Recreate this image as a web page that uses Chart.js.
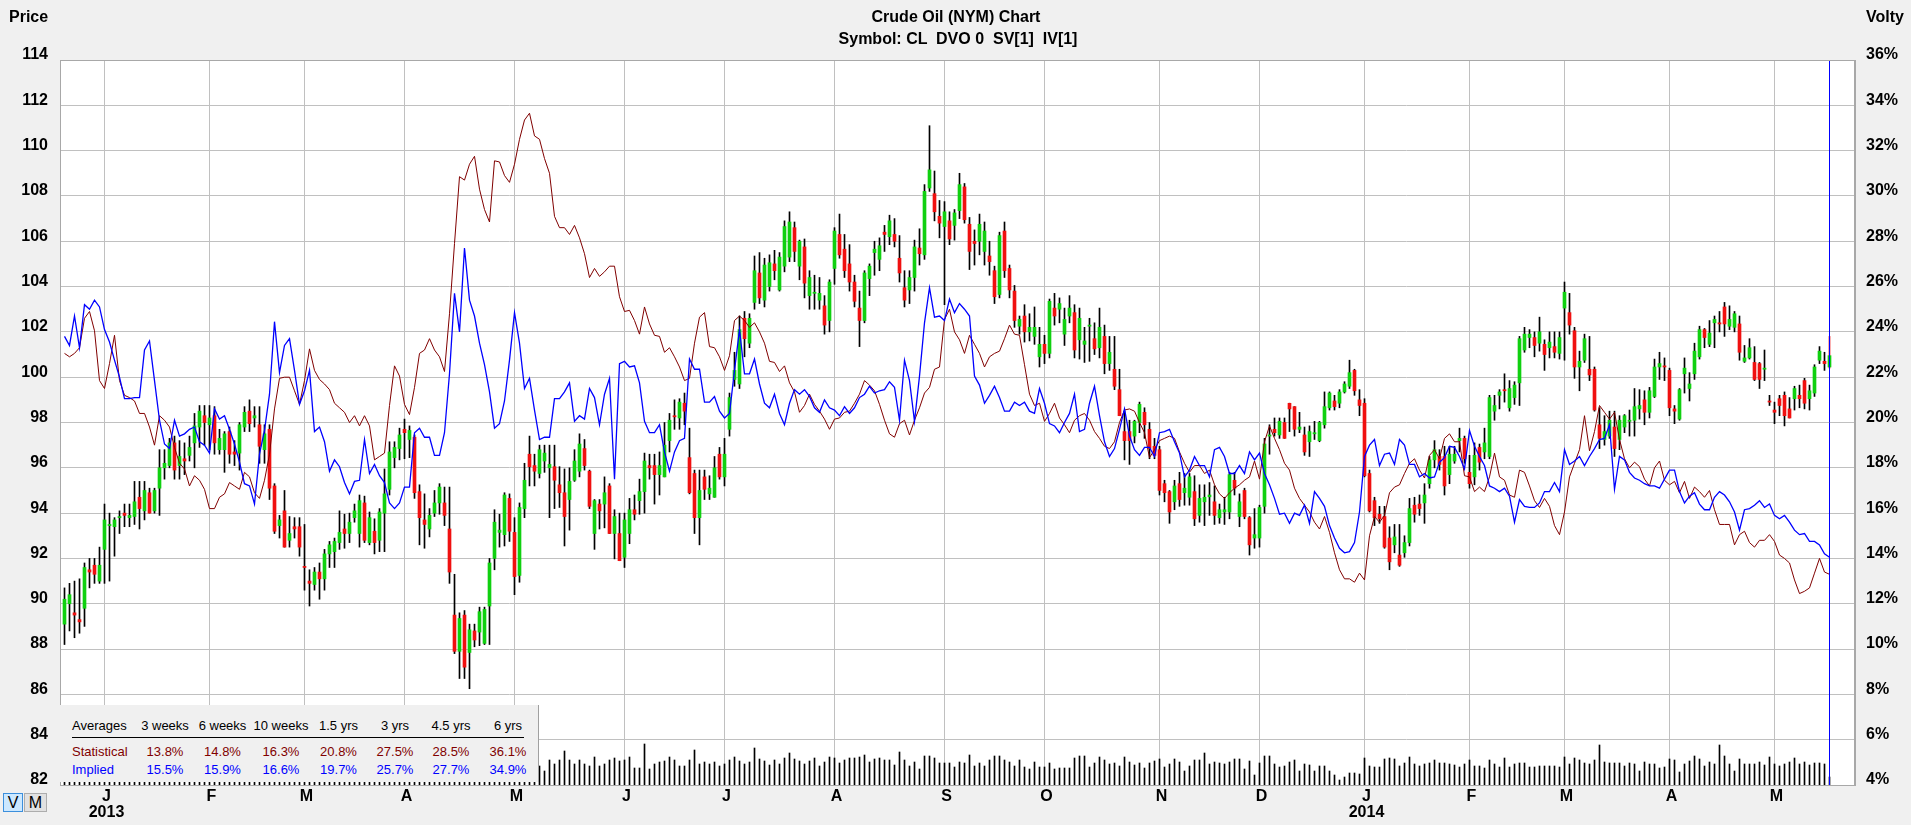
<!DOCTYPE html>
<html>
<head>
<meta charset="utf-8">
<title>Crude Oil (NYM) Chart</title>
<script src="https://cdn.jsdelivr.net/npm/chart.js@4.4.1/dist/chart.umd.min.js"></script>
<style>
  html, body { margin: 0; padding: 0; background: #f0f0f0; }
  #wrap { position: relative; width: 1911px; height: 825px; overflow: hidden;
          font-family: "Liberation Sans", Arial, Helvetica, sans-serif; color: #000; }
  #c { position: absolute; left: 0; top: 0; width: 1911px; height: 825px; }
  .abs { position: absolute; white-space: pre; line-height: 16px; }
  .hdr { font-weight: bold; font-size: 16px; }
  .ctr { transform: translateX(-50%); }
  #avg { position: absolute; left: 60px; top: 705px; width: 478px; height: 77px;
         background: #f0f0f0; border-right: 1px solid #a0a0a0; font-size: 13px; }
  .btn { position: absolute; top: 793px; height: 17px; font-size: 16px; line-height: 17px; text-align: center; }
</style>
</head>
<body>
<div id="wrap">
  <canvas id="c" width="1911" height="825"></canvas>
  <div class="abs hdr" style="left:9px; top:9px;">Price</div>
  <div class="abs hdr" style="left:1866px; top:9px;">Volty</div>
  <div class="abs hdr ctr" style="left:956px; top:9px;">Crude Oil (NYM) Chart</div>
  <div class="abs hdr ctr" style="left:958px; top:31px;">Symbol: CL  DVO 0  SV[1]  IV[1]</div>
  <div id="avg"></div>
  <div class="btn" style="left:3px; width:18px; background:#cce8ff; border:1px solid #3c8fdc;">V</div>
  <div class="btn" style="left:24px; width:21px; background:#e1e1e1; border:1px solid #adadad;">M</div>
</div>
<script>
// daily candles, first bar = 19 Dec 2012, last bar = 16 May 2014
const OPEN = [
  89.1, 90.0, 89.6, 89.3, 89.8, 91.5, 91.7, 91.0, 92.4, 93.45,
  93.4, 93.8, 94.0, 93.8, 93.85, 94.7, 94.1, 94.9, 94.1, 95.1,
  96.0, 96.1, 97.1, 96.1, 96.4, 96.55, 97.1, 97.8, 98.3, 97.9,
  98.3, 96.8, 96.8, 97.6, 96.7, 96.65, 97.8, 98.5, 98.2, 97.9,
  96.8, 97.7, 95.2, 93.45, 94.1, 92.8, 93.4, 93.4, 91.65, 91.0,
  90.85, 91.4, 91.1, 92.2, 92.3, 92.7, 93.3, 93.1, 93.8, 93.1,
  94.45, 92.7, 93.2, 92.8, 94.0, 95.05, 96.45, 96.85, 97.7, 97.25,
  97.35, 94.95, 93.7, 93.3, 94.0, 94.45, 94.45, 93.3, 89.5, 87.9,
  89.5, 87.85, 88.8, 88.75, 88.25, 89.9, 92.0, 93.15, 93.05, 94.65,
  93.15, 91.25, 94.2, 96.6, 96.1, 95.75, 96.3, 96.0, 96.05, 95.25,
  94.9, 94.6, 95.45, 95.85, 96.85, 95.85, 93.1, 94.4, 94.4, 95.2,
  93.1, 93.1, 92.05, 93.1, 94.15, 94.55, 94.95, 96.1, 96.1, 95.7,
  95.6, 97.2, 98.3, 98.2, 98.85, 96.45, 95.75, 93.8, 95.6, 94.85,
  94.7, 96.6, 95.6, 97.7, 99.9, 99.7, 102.6, 101.5, 103.3, 104.6,
  103.4, 104.0, 105.0, 103.85, 104.9, 105.3, 106.6, 104.9, 105.75, 103.6,
  103.7, 103.4, 103.15, 102.5, 104.8, 106.3, 105.65, 105.0, 104.2, 103.05,
  102.5, 104.35, 105.5, 105.2, 106.4, 106.2, 106.3, 105.25, 103.95, 103.85,
  104.4, 105.7, 105.4, 108.35, 108.1, 107.1, 106.65, 106.9, 106.7, 107.35,
  108.4, 106.75, 106.0, 106.0, 105.55, 105.35, 104.7, 103.65, 106.45, 104.8,
  103.8, 102.25, 102.7, 102.0, 101.8, 100.9, 101.45, 101.05, 103.05, 103.0,
  101.9, 102.7, 102.85, 101.65, 101.45, 102.25, 101.7, 101.3, 101.8, 100.6,
  100.35, 99.45, 97.6, 97.6, 97.4, 98.0, 98.45, 97.7, 96.95, 96.8,
  95.3, 94.95, 94.5, 95.3, 94.9, 94.7, 94.95, 93.9, 94.5, 94.72,
  94.5, 93.8, 94.05, 94.05, 95.45, 93.85, 95.0, 93.8, 92.9, 92.9,
  94.3, 97.4, 97.7, 97.45, 98.0, 98.85, 98.7, 97.7, 97.45, 97.15,
  97.5, 97.2, 97.9, 98.65, 98.95, 98.85, 99.35, 99.6, 100.3, 99.0,
  98.85, 95.75, 94.55, 93.95, 93.85, 92.9, 92.6, 92.15, 92.25, 92.7,
  94.35, 94.4, 94.45, 95.3, 96.35, 96.5, 96.5, 95.7, 96.3, 97.2,
  97.3, 95.8, 95.6, 96.9, 96.7, 96.5, 98.5, 99.2, 99.45, 98.65,
  99.1, 99.75, 101.2, 101.75, 101.75, 101.5, 101.45, 101.3, 101.35, 101.05,
  103.05, 102.85, 102.05, 100.45, 100.75, 100.35, 100.35, 97.9, 97.25, 97.4,
  97.8, 97.25, 97.8, 98.05, 98.1, 98.6, 99.0, 98.45, 99.15, 100.45,
  100.5, 100.3, 98.6, 98.15, 100.15, 99.5, 100.15, 100.9, 102.1, 101.45,
  102.4, 102.4, 103.1, 102.25, 102.2, 102.35, 100.7, 100.85, 100.65, 100.6,
  100.35, 98.95, 98.55, 99.05, 99.2, 98.6, 99.05, 99.2, 99.85, 99.05,
  99.3, 100.75, 100.7, 100.45
];
const HIGH = [
  90.7, 90.9, 91.0, 91.1, 91.8, 92.0, 92.0, 92.5, 94.4, 94.0,
  93.8, 94.1, 94.4, 94.4, 95.4, 95.4, 95.4, 95.1, 95.1, 96.8,
  96.8, 97.3, 97.4, 97.2, 97.1, 97.4, 98.4, 98.75, 98.75, 98.75,
  98.7, 97.7, 97.6, 97.8, 97.2, 98.0, 98.7, 99.0, 98.7, 98.7,
  97.9, 97.9, 95.3, 93.9, 95.0, 93.85, 93.8, 93.8, 93.5, 91.5,
  91.6, 91.8, 92.4, 92.75, 92.9, 94.1, 93.95, 94.0, 94.4, 94.8,
  94.75, 94.05, 93.75, 94.2, 95.95, 97.15, 97.15, 97.75, 98.15, 97.85,
  97.45, 95.25, 94.85, 94.2, 95.0, 95.3, 95.15, 95.15, 91.3, 89.6,
  89.7, 89.1, 89.1, 89.85, 89.85, 92.0, 94.15, 93.95, 94.9, 94.85,
  93.8, 94.45, 96.2, 97.4, 96.6, 97.0, 97.0, 97.0, 97.0, 96.05,
  95.95, 96.0, 96.8, 97.5, 97.25, 95.9, 94.6, 94.6, 95.6, 95.3,
  94.15, 94.0, 94.0, 94.65, 94.8, 95.5, 96.65, 96.6, 96.6, 96.7,
  98.0, 98.4, 99.0, 99.05, 99.3, 97.75, 95.9, 95.9, 95.9, 95.65,
  96.5, 96.9, 97.3, 99.3, 101.1, 102.7, 102.9, 102.8, 105.35, 105.5,
  105.25, 105.4, 105.6, 105.5, 106.9, 107.3, 106.85, 106.05, 106.1, 104.7,
  104.5, 104.4, 103.6, 104.3, 106.6, 107.2, 106.3, 105.85, 104.5, 103.8,
  104.7, 105.0, 106.0, 106.15, 106.7, 107.15, 107.0, 106.25, 104.7, 104.7,
  106.05, 106.55, 108.5, 111.1, 109.1, 107.8, 107.75, 107.3, 107.4, 109.0,
  108.55, 107.05, 106.5, 107.2, 106.85, 106.0, 104.9, 106.4, 106.85, 104.95,
  104.05, 102.7, 103.2, 102.8, 103.1, 102.2, 101.85, 103.45, 103.7, 103.5,
  103.05, 103.6, 103.2, 103.05, 102.2, 102.6, 102.4, 103.05, 102.3, 101.8,
  101.8, 100.35, 98.5, 98.1, 98.1, 98.9, 98.65, 98.0, 97.3, 96.95,
  95.45, 95.0, 95.45, 95.8, 95.75, 95.75, 95.65, 95.25, 95.25, 95.35,
  95.2, 94.4, 94.7, 95.8, 95.8, 94.85, 95.1, 93.85, 94.2, 94.35,
  97.3, 97.9, 98.2, 98.2, 98.2, 98.85, 98.7, 98.45, 97.8, 97.85,
  98.05, 98.05, 99.35, 99.35, 99.2, 99.45, 99.8, 100.75, 100.35, 99.45,
  99.05, 95.9, 94.7, 94.3, 94.3, 93.4, 93.5, 93.5, 93.0, 94.65,
  94.7, 94.8, 95.3, 96.5, 97.2, 96.8, 96.95, 96.95, 96.95, 97.75,
  97.4, 96.55, 97.1, 97.05, 97.75, 99.2, 99.2, 99.45, 100.15, 99.85,
  99.8, 101.8, 102.2, 102.1, 102.0, 102.65, 101.65, 102.0, 102.0, 102.0,
  104.2, 103.7, 102.2, 101.15, 101.9, 101.8, 100.45, 98.65, 98.3, 98.5,
  98.5, 98.3, 98.35, 98.55, 99.5, 99.45, 99.4, 99.55, 100.8, 101.1,
  100.85, 100.4, 98.75, 99.5, 100.85, 100.2, 101.5, 102.25, 102.15, 102.5,
  102.7, 102.9, 103.3, 103.15, 102.9, 102.7, 101.4, 101.7, 101.35, 100.65,
  101.2, 99.2, 98.9, 99.2, 99.35, 99.1, 99.6, 99.65, 99.95, 99.65,
  100.55, 101.35, 101.1, 101.8
];
const LOW = [
  88.2, 88.8, 88.5, 88.7, 89.0, 90.7, 90.9, 90.9, 90.9, 91.0,
  92.1, 93.1, 93.4, 93.4, 93.5, 93.3, 93.7, 94.0, 94.0, 93.9,
  95.5, 96.0, 95.5, 95.5, 95.7, 96.3, 96.0, 96.9, 97.0, 96.8,
  96.6, 96.6, 95.8, 96.2, 96.1, 95.9, 97.6, 97.6, 97.8, 96.2,
  96.2, 94.6, 93.1, 92.9, 92.5, 92.5, 92.9, 92.1, 90.6, 89.9,
  90.6, 90.2, 90.6, 91.6, 91.6, 92.4, 92.45, 92.7, 93.6, 92.5,
  92.7, 92.6, 92.2, 92.3, 92.3, 94.8, 96.0, 96.35, 96.4, 96.45,
  94.65, 92.6, 92.45, 92.95, 93.85, 93.95, 93.45, 90.9, 87.8, 86.7,
  86.7, 86.25, 88.1, 88.15, 88.2, 88.2, 91.5, 92.5, 92.55, 92.75,
  90.4, 90.95, 93.8, 95.2, 95.2, 95.55, 95.8, 93.8, 94.2, 94.25,
  92.55, 93.25, 95.4, 95.6, 95.9, 94.2, 92.4, 93.3, 93.35, 93.1,
  91.98, 91.9, 91.6, 92.65, 93.7, 93.95, 94.0, 95.5, 94.4, 94.8,
  95.6, 96.7, 97.7, 97.7, 97.9, 94.85, 93.1, 92.6, 94.6, 94.6,
  94.7, 95.5, 95.2, 97.4, 99.6, 99.5, 100.9, 101.3, 103.0, 103.25,
  103.1, 103.8, 104.3, 103.8, 104.65, 105.1, 105.1, 104.3, 103.5, 103.0,
  103.0, 103.0, 101.9, 102.0, 104.1, 105.25, 104.4, 103.8, 103.1, 101.35,
  102.4, 103.6, 104.5, 104.7, 105.55, 105.85, 105.75, 104.2, 103.1, 103.25,
  103.8, 104.95, 105.2, 108.2, 106.9, 106.15, 103.2, 105.85, 106.05, 107.0,
  106.8, 104.75, 104.95, 105.4, 104.95, 104.5, 103.25, 103.5, 104.4, 103.5,
  102.2, 101.9, 101.55, 101.6, 101.45, 100.45, 100.6, 100.85, 102.3, 102.4,
  101.4, 102.4, 100.85, 100.8, 100.65, 100.7, 101.0, 100.85, 100.15, 100.3,
  99.45, 98.3, 96.35, 96.15, 97.1, 97.55, 97.3, 96.4, 96.4, 94.8,
  94.5, 93.55, 94.15, 94.3, 94.35, 94.35, 93.45, 93.6, 93.45, 93.9,
  93.5, 93.55, 93.5, 93.75, 94.8, 93.4, 93.75, 92.15, 92.45, 92.5,
  94.0, 96.6, 97.4, 97.3, 97.3, 97.6, 97.4, 97.55, 96.55, 96.5,
  97.25, 97.15, 97.75, 98.55, 98.55, 98.65, 99.3, 99.5, 99.2, 98.3,
  95.6, 94.05, 93.45, 93.55, 92.45, 91.5, 92.25, 91.65, 92.05, 92.55,
  93.6, 93.9, 93.55, 95.1, 96.0, 95.9, 94.8, 95.3, 96.2, 96.7,
  96.2, 95.1, 95.25, 95.9, 96.4, 96.4, 98.1, 98.6, 98.9, 98.5,
  98.8, 98.75, 101.1, 101.3, 100.9, 101.15, 100.3, 100.85, 100.85, 100.8,
  100.75, 101.9, 99.95, 99.4, 100.65, 99.85, 98.5, 96.85, 97.0, 97.3,
  96.5, 96.8, 97.55, 97.4, 97.4, 98.15, 97.9, 98.2, 99.1, 99.9,
  99.85, 98.3, 97.95, 98.1, 99.3, 98.95, 99.9, 100.8, 101.3, 101.35,
  101.3, 102.0, 101.8, 102.1, 102.0, 100.75, 100.65, 100.8, 99.85, 99.5,
  99.85, 98.75, 97.95, 98.3, 97.85, 98.2, 98.55, 98.65, 98.6, 98.55,
  99.15, 100.6, 100.3, 100.4
];
const CLOSE = [
  90.2, 90.4, 89.5, 89.2, 91.6, 91.4, 91.3, 91.7, 93.7, 93.5,
  93.7, 93.85, 93.9, 93.9, 94.5, 94.2, 95.0, 94.0, 95.0, 96.0,
  96.2, 97.1, 95.9, 96.5, 96.3, 96.9, 97.85, 98.5, 98.0, 98.2,
  97.1, 97.3, 97.5, 96.6, 96.6, 97.9, 98.45, 97.95, 98.3, 96.95,
  97.5, 95.1, 93.2, 93.7, 92.5, 93.1, 93.3, 92.5, 91.6, 90.9,
  91.4, 91.1, 92.2, 92.6, 92.75, 93.15, 93.1, 93.6, 94.1, 94.55,
  92.8, 93.8, 92.7, 94.05, 94.85, 96.7, 96.9, 97.45, 97.55, 97.65,
  94.9, 93.8, 93.5, 93.9, 94.45, 95.15, 93.9, 91.4, 87.9, 89.35,
  87.2, 88.85, 88.4, 89.65, 89.75, 91.8, 93.6, 93.25, 94.8, 93.2,
  91.2, 94.25, 95.45, 96.05, 95.85, 96.8, 96.65, 96.15, 95.45, 94.9,
  93.85, 95.4, 96.3, 97.05, 96.1, 94.3, 94.55, 94.1, 94.9, 93.1,
  93.85, 91.9, 93.7, 94.15, 93.95, 94.95, 96.3, 96.0, 95.7, 96.1,
  97.0, 98.1, 98.25, 98.9, 98.5, 94.9, 93.8, 95.0, 95.05, 95.1,
  96.0, 95.6, 96.6, 99.1, 100.3, 102.1, 101.7, 102.6, 104.7, 103.5,
  104.95, 105.05, 104.7, 105.3, 106.65, 106.85, 105.55, 106.0, 104.15, 104.4,
  103.75, 103.7, 102.3, 104.2, 106.45, 105.4, 104.7, 104.2, 103.35, 102.5,
  104.6, 104.9, 105.65, 105.8, 106.3, 106.9, 106.0, 104.6, 103.4, 104.4,
  105.75, 105.45, 108.2, 109.15, 107.3, 106.8, 107.3, 106.1, 107.25, 108.5,
  106.95, 105.55, 105.9, 106.75, 106.45, 105.1, 103.55, 106.25, 104.7, 103.85,
  102.5, 102.55, 102.0, 102.2, 102.2, 101.45, 101.05, 103.35, 102.7, 103.25,
  102.55, 103.05, 101.2, 102.6, 101.6, 102.3, 101.25, 102.2, 100.6, 101.1,
  99.6, 98.3, 97.2, 97.2, 98.05, 98.8, 97.9, 96.85, 96.55, 95.0,
  94.9, 94.05, 95.2, 94.6, 95.1, 95.6, 93.75, 94.65, 94.7, 94.8,
  93.9, 94.15, 94.15, 95.7, 95.1, 94.5, 93.85, 92.6, 93.05, 94.25,
  97.05, 97.45, 97.55, 98.05, 97.3, 98.6, 97.7, 97.8, 96.7, 97.6,
  97.55, 98.0, 98.7, 99.3, 98.7, 99.35, 99.7, 100.2, 99.4, 98.75,
  95.65, 94.1, 93.8, 93.75, 92.5, 91.85, 92.95, 91.7, 92.7, 94.2,
  93.95, 94.2, 94.8, 96.35, 96.8, 96.15, 95.2, 96.6, 96.6, 97.3,
  96.4, 95.3, 96.55, 96.25, 97.1, 99.1, 98.75, 99.35, 99.4, 99.5,
  99.65, 101.7, 101.9, 101.9, 101.4, 102.0, 101.0, 101.55, 101.1, 101.75,
  103.75, 102.3, 100.45, 100.7, 101.7, 100.1, 98.55, 97.3, 97.6, 98.1,
  96.85, 98.1, 98.3, 98.1, 98.7, 98.75, 98.45, 99.4, 100.45, 100.6,
  100.45, 98.65, 98.5, 99.45, 100.4, 99.7, 101.15, 102.1, 101.75, 101.95,
  102.55, 102.35, 102.35, 102.55, 102.8, 101.1, 100.85, 101.3, 99.9, 99.9,
  100.4, 98.9, 98.45, 98.75, 98.3, 98.2, 99.5, 99.05, 98.85, 99.4,
  100.45, 101.15, 100.6, 100.95
];
// volatility in percent (right axis)
const IMPLIED = [
  23.8, 23.4, 24.7, 23.3, 25.2, 25.0, 25.4, 25.1, 24.1, 23.55,
  22.75, 22.0, 21.05, 21.05, 21.1, 21.1, 23.2, 23.6, 21.85, 20.1,
  19.05, 18.85, 20.1, 19.4, 19.5, 19.7, 19.8, 19.15, 19.0, 18.65,
  20.6, 20.15, 20.3, 19.7, 19.05, 18.25, 17.3, 17.2, 16.4, 18.6,
  19.65, 21.25, 24.45, 22.2, 23.4, 23.7, 22.3, 20.8, 21.4, 22.3,
  19.6, 19.8, 19.15, 17.85, 18.35, 18.05, 17.35, 16.85, 17.4, 17.45,
  19.25, 17.75, 18.15, 17.65, 17.35, 16.45, 16.2, 16.45, 17.15, 17.15,
  19.55, 19.75, 19.35, 19.35, 18.55, 18.55, 19.55, 22.15, 25.7, 24.0,
  27.7, 25.4, 24.7, 23.5, 22.55, 21.35, 19.75, 19.95, 20.95, 22.75,
  24.85, 23.5, 21.5, 21.95, 20.55, 19.25, 19.35, 19.35, 21.05, 21.05,
  21.35, 21.75, 20.05, 20.3, 20.15, 21.5, 21.1, 19.9, 21.25, 21.95,
  17.5, 22.6, 22.7, 22.45, 22.5, 21.75, 20.05, 19.55, 19.55, 19.9,
  18.7, 17.85, 18.7, 19.2, 19.3, 22.8, 22.35, 22.35, 20.9, 20.9,
  21.15, 20.5, 20.2, 20.4, 22.3, 24.1, 22.15, 22.15, 22.8, 21.7,
  20.85, 20.65, 21.25, 20.4, 19.9, 20.85, 21.45, 21.25, 21.45, 21.15,
  20.65, 20.45, 21.0, 20.65, 20.55, 20.3, 20.7, 20.4, 20.65, 21.1,
  21.25, 21.6, 21.3, 21.4, 21.45, 21.8, 21.55, 20.1, 22.75, 21.85,
  20.05, 22.05, 24.4, 25.95, 24.65, 24.7, 24.5, 25.45, 24.85, 25.25,
  25.0, 24.7, 22.05, 21.65, 20.85, 21.2, 21.6, 21.1, 20.5, 20.5,
  20.9, 20.75, 20.9, 20.5, 20.4, 21.5, 20.85, 19.95, 19.85, 19.55,
  20.0, 20.4, 21.25, 19.6, 19.7, 20.85, 21.6, 20.3, 19.15, 18.5,
  18.85, 19.7, 20.6, 19.4, 18.8, 18.55, 18.9, 18.9, 18.5, 19.55,
  19.6, 19.7, 19.15, 18.65, 17.6, 17.9, 18.5, 18.1, 18.1, 17.6,
  18.8, 18.9, 18.5, 17.75, 17.75, 18.1, 17.75, 18.7, 18.35, 18.65,
  17.75, 17.25, 16.65, 15.95, 16.0, 15.55, 16.0, 15.9, 16.35, 15.55,
  16.95, 16.65, 16.3, 15.45, 14.9, 14.45, 14.25, 14.3, 14.7, 16.05,
  18.5, 19.0, 19.25, 18.1, 18.6, 18.65, 18.15, 19.25, 19.0, 18.15,
  18.15, 17.6, 17.75, 17.55, 17.6, 18.25, 18.45, 18.95, 18.9, 18.5,
  17.95, 19.65, 18.95, 18.5, 18.1, 17.2, 17.1, 16.95, 17.1, 16.75,
  15.6, 16.6, 16.3, 16.25, 16.25, 16.45, 16.95, 16.95, 17.35, 16.95,
  18.8, 18.15, 18.3, 18.5, 18.1, 18.5, 18.85, 19.25, 19.3, 19.9,
  17.05, 18.5, 18.35, 17.8, 17.55, 17.45, 17.3, 17.2, 17.2, 17.1,
  17.5, 17.9, 17.9, 16.95, 16.45, 16.75, 16.9, 16.4, 16.15, 16.15,
  16.7, 16.95, 16.8, 16.5, 16.05, 15.25, 16.15, 16.2, 16.35, 16.55,
  16.25, 16.4, 15.9, 15.75, 15.9, 15.6, 15.25, 15.05, 15.1, 14.75,
  14.75, 14.6, 14.2, 14.05
];
const STATISTICAL = [
  23.05, 22.9, 23.05, 23.3, 24.6, 24.9, 24.05, 21.85, 21.5, 22.6,
  23.85, 21.85, 21.2, 21.1, 20.95, 20.4, 20.4, 19.8, 19.0, 20.3,
  20.1, 19.8, 18.9, 18.2, 17.95, 17.2, 17.65, 17.45, 17.05, 16.2,
  16.2, 16.7, 16.85, 17.35, 17.2, 17.05, 17.8, 17.6, 16.9, 16.65,
  17.45, 18.6, 20.6, 21.95, 22.0, 22.0, 21.4, 20.8, 21.85, 23.25,
  22.3, 21.9, 21.7, 21.45, 20.85, 20.65, 20.45, 20.0, 20.3, 19.85,
  20.3, 19.85, 18.35, 18.5, 18.65, 20.75, 22.5, 22.05, 20.8, 20.35,
  21.55, 23.05, 23.2, 23.7, 23.2, 22.9, 22.25, 24.8, 27.9, 30.85,
  30.7, 31.4, 31.75, 30.3, 29.4, 28.85, 31.55, 31.5, 30.9, 30.6,
  31.4, 32.5, 33.35, 33.65, 32.65, 32.5, 31.65, 31.0, 29.1, 28.6,
  28.6, 28.3, 28.7, 28.15, 27.45, 26.4, 26.8, 26.45, 26.65, 26.9,
  26.9, 25.55, 24.9, 24.95, 24.5, 23.9, 25.1, 24.35, 23.85, 23.8,
  23.1, 23.3, 22.9, 22.45, 21.85, 21.95, 23.5, 24.65, 24.85, 23.35,
  23.3, 22.9, 22.3, 22.95, 24.5, 24.7, 24.5, 24.2, 24.4, 24.0,
  23.5, 22.7, 22.65, 22.25, 22.5, 21.75, 21.35, 20.45, 20.75, 21.25,
  20.8, 20.5, 20.15, 19.7, 20.15, 20.2, 20.45, 20.5, 20.85, 21.25,
  21.85, 21.65, 21.4, 20.8, 20.1, 19.5, 19.35, 19.95, 20.1, 19.45,
  20.1, 20.65, 21.3, 21.55, 22.35, 22.45, 24.55, 25.0, 24.0, 23.65,
  23.05, 23.85, 23.45, 23.05, 22.45, 22.9, 23.05, 23.15, 23.7, 24.3,
  23.9, 23.85, 22.55, 21.25, 20.75, 20.85, 20.05, 20.4, 20.85, 20.2,
  19.9, 19.55, 20.1, 20.3, 20.4, 20.1, 19.6, 19.3, 18.95, 18.85,
  19.15, 20.0, 20.55, 20.6, 20.5, 20.0, 19.55, 18.45, 18.8, 19.2,
  19.3, 19.4, 19.3, 18.7, 18.2, 17.8, 18.1, 18.1, 17.75, 17.9,
  17.25, 16.85, 16.65, 16.9, 17.1, 17.25, 17.45, 17.6, 18.3, 17.5,
  19.15, 19.85, 19.3, 18.8, 18.2, 17.9, 17.1, 16.65, 16.35, 16.05,
  15.6, 15.3, 15.85, 15.15, 14.25, 13.5, 13.1, 13.1, 12.95, 13.35,
  13.05, 15.0, 15.85, 15.6, 15.9, 16.9, 17.15, 17.25, 17.75, 18.2,
  18.4, 17.9, 17.55, 18.55, 18.8, 18.4, 19.3, 19.5, 19.15, 19.15,
  17.65, 17.6, 16.95, 17.15, 16.95, 17.6, 18.65, 17.6, 17.45, 16.8,
  16.7, 17.9, 17.8, 17.2, 16.55, 16.25, 16.65, 16.3, 15.45, 15.05,
  16.05, 17.6, 18.2, 18.8, 20.3, 18.75, 19.6, 20.75, 20.45, 20.15,
  20.45, 19.25, 18.4, 18.0, 18.25, 18.05, 17.5, 17.2, 18.0, 18.3,
  17.45, 17.25, 17.4, 16.9, 17.4, 16.65, 17.15, 16.95, 16.7, 17.0,
  16.15, 15.5, 15.5, 15.5, 14.6, 15.05, 15.2, 14.7, 14.5, 14.8,
  14.8, 15.05, 14.75, 14.15, 14.0, 13.8, 13.05, 12.45, 12.55, 12.7,
  13.35, 14.0, 13.4, 13.3
];
// daily volume, thousand contracts
const VOLUME = [
  140, 120, 180, 100, 170, 200, 150, 130,
  240, 210, 220, 190, 230, 200, 250, 220, 180, 210, 240, 260, 200, 230, 220, 190, 210, 270, 240, 200, 220,
  250, 230, 190, 210, 240, 220, 200, 260, 230, 210, 280, 240, 300, 330, 250, 270, 220, 240, 210,
  260, 290, 230, 220, 200, 240, 210, 190, 230, 250, 220, 270, 240, 210, 230, 200, 260, 280, 220, 190,
  240, 220, 260, 290, 250, 210, 230, 200, 220, 310, 380, 330, 300, 270, 240, 260, 230, 280, 300, 250, 220, 240, 270, 290, 250, 230, 210,
  190, 140, 250, 210, 250, 340, 250, 210, 250, 210,
  190, 280, 190, 210, 250, 270, 240, 250, 280, 170,
  170, 410, 160, 210, 230, 240, 280, 250, 190, 190,
  250, 350, 210, 230, 210, 230, 190, 210, 250, 280,
  240, 210, 230, 370, 260, 240, 200, 250, 210, 270,
  320, 260, 240, 210, 240, 270, 190, 230, 280, 270,
  220,
  250, 270, 270, 280, 300, 230, 260, 270, 250, 250,
  200, 330, 250, 190, 230, 160, 290, 290, 270, 220,
  220, 220, 180, 230, 220, 300, 190, 220, 190, 250,
  290, 290, 250, 230, 190, 250, 180, 160, 230, 180,
  180, 220, 160, 170, 170, 170, 270, 290, 290, 180,
  220, 280,
  250, 210, 220, 190, 280, 230, 200, 220, 170, 220,
  240, 260, 180, 210, 260, 230, 140, 190, 250, 250,
  320, 210, 230, 220, 210, 230, 260, 260, 160, 240,
  100, 220, 290, 290, 210, 180, 190, 230, 250, 140,
  210, 200, 140, 190, 190, 140, 100, 50, 80, 120,
  120, 110,
  270, 190, 180, 180, 260, 270, 260, 190, 220, 280,
  210, 190, 210, 220, 250, 220, 220, 210, 200, 180,
  210, 250, 190, 190, 170, 250, 210, 180, 270, 180,
  210, 220, 220, 180, 180, 190, 190, 190, 190, 180,
  280, 210, 270, 250, 220, 210, 250, 400, 230, 220,
  220, 220,
  190, 220, 210, 140, 230, 210, 210, 170, 180, 260,
  250, 130, 210, 240, 290, 260, 190, 230, 210, 400,
  290, 210, 140, 260, 210, 210, 210, 230, 200, 280,
  210, 190, 210, 230, 270, 210, 230, 200, 220, 220,
  210, 80
];
// first trading day of each month (bar index) and its axis label
const MONTH_STARTS = [8, 29, 48, 68, 90, 112, 132, 154, 176, 196, 219, 239, 260, 281, 300, 321, 342];
const MONTH_LABELS = ['J', 'F', 'M', 'A', 'M', 'J', 'J', 'A', 'S', 'O', 'N', 'D', 'J', 'F', 'M', 'A', 'M'];
const YEAR_LABELS  = ['2013', '', '', '', '', '', '', '', '', '', '', '', '2014', '', '', '', ''];
const PRICE_TICKS = { min: 82, max: 114, step: 2 };
const VOLTY_TICKS = { min: 4, max: 36, step: 2 };

const AVG_PERIODS = ['3 weeks', '6 weeks', '10 weeks', '1.5 yrs', '3 yrs', '4.5 yrs', '6 yrs'];
const AVG_STAT = [13.8, 14.8, 16.3, 20.8, 27.5, 28.5, 36.1];
const AVG_IMPL = [15.5, 15.9, 16.6, 19.7, 25.7, 27.7, 34.9];

const FONT = '"Liberation Sans", Arial, Helvetica, sans-serif';
const UP = '#10d010', DOWN = '#f01010';
const GRID = '#c0c0c0', FRAME = '#a8a8a8';
const LAST = CLOSE.length - 1;
const idx = CLOSE.map((_, i) => i);

// averages box (html overlay over the plot)
(function buildAverages(){
  const box = document.getElementById('avg');
  const colX = [105, 162.5, 221, 278.5, 335, 391, 448]; // centres, relative to box
  const add = (txt, x, y, color, centre) => {
    const d = document.createElement('div');
    d.className = 'abs' + (centre ? ' ctr' : '');
    d.style.left = x + 'px';
    d.style.top = y + 'px';
    d.style.color = color;
    d.textContent = txt;
    box.appendChild(d);
  };
  add('Averages', 12, 13, '#000', false);
  AVG_PERIODS.forEach((p, i) => add(p, colX[i], 13, '#000', true));
  const rule = document.createElement('div');
  rule.style.cssText = 'position:absolute;left:12px;top:32px;width:452px;height:1px;background:#000;';
  box.appendChild(rule);
  add('Statistical', 12, 39, '#800000', false);
  AVG_STAT.forEach((v, i) => add(v.toFixed(1) + '%', colX[i], 39, '#800000', true));
  add('Implied', 12, 57, '#0000ff', false);
  AVG_IMPL.forEach((v, i) => add(v.toFixed(1) + '%', colX[i], 57, '#0000ff', true));
})();

const framePlugin = {
  id: 'frame',
  beforeDraw(chart){
    const { ctx, chartArea: a } = chart;
    ctx.save();
    ctx.fillStyle = '#f0f0f0';
    ctx.fillRect(0, 0, chart.width, chart.height);
    ctx.fillStyle = '#ffffff';
    ctx.fillRect(a.left, a.top, a.right - a.left, a.bottom - a.top);
    ctx.restore();
  },
  afterDatasetsDraw(chart){
    const { ctx, chartArea: a, scales } = chart;
    const x = Math.round(scales.x.getPixelForValue(LAST)) + 0.5;
    ctx.save();
    ctx.strokeStyle = '#0000ff';
    ctx.lineWidth = 1;
    ctx.beginPath();
    ctx.moveTo(x, a.top);
    ctx.lineTo(x, a.bottom);
    ctx.stroke();
    ctx.strokeStyle = FRAME;
    ctx.strokeRect(Math.round(a.left) + 0.5, Math.round(a.top) + 0.5,
                   Math.round(a.right - a.left) - 1, Math.round(a.bottom - a.top));
    ctx.restore();
  }
};

const tickFont = { family: FONT, size: 16, weight: 'bold', lineHeight: 1 };

new Chart(document.getElementById('c'), {
  type: 'bar',
  data: {
    datasets: [
      {
        label: 'Volume',
        data: idx.map(i => ({ x: i, y: VOLUME[i] })),
        yAxisID: 'yVol',
        backgroundColor: '#000000',
        barThickness: 1,
        grouped: false,
        order: 4
      },
      {
        label: 'Range',
        data: idx.map(i => ({ x: i, y: [LOW[i], HIGH[i]] })),
        yAxisID: 'y',
        backgroundColor: (c) => c.dataIndex === LAST ? DOWN : '#000000',
        barThickness: 1,
        grouped: false,
        order: 3
      },
      {
        label: 'Body',
        data: idx.map(i => ({ x: i, y: [OPEN[i], CLOSE[i]] })),
        yAxisID: 'y',
        backgroundColor: (c) => CLOSE[c.dataIndex] >= OPEN[c.dataIndex] ? UP : DOWN,
        barThickness: 3,
        minBarLength: 1,
        grouped: false,
        order: 2
      },
      {
        type: 'line',
        label: 'Statistical',
        data: idx.map(i => ({ x: i, y: STATISTICAL[i] })),
        yAxisID: 'yv',
        borderColor: '#800000',
        borderWidth: 1,
        pointRadius: 0,
        tension: 0,
        order: 1
      },
      {
        type: 'line',
        label: 'Implied',
        data: idx.map(i => ({ x: i, y: IMPLIED[i] })),
        yAxisID: 'yv',
        borderColor: '#0000ff',
        borderWidth: 1.3,
        pointRadius: 0,
        tension: 0,
        order: 0
      }
    ]
  },
  options: {
    responsive: false,
    devicePixelRatio: 1,
    animation: false,
    events: [],
    layout: { padding: { top: 60, left: 0, right: 0, bottom: 0 } },
    plugins: { legend: { display: false }, tooltip: { enabled: false } },
    scales: {
      x: {
        type: 'linear',
        min: -0.9,
        max: 358.1,
        offset: false,
        afterBuildTicks: (s) => { s.ticks = MONTH_STARTS.map(v => ({ value: v })); },
        afterFit: (s) => { s.height = 40; },
        ticks: {
          autoSkip: false,
          maxRotation: 0,
          padding: 4,
          labelOffset: 2,
          color: '#000',
          font: tickFont,
          callback: (v, i) => YEAR_LABELS[i] ? [MONTH_LABELS[i], YEAR_LABELS[i]] : MONTH_LABELS[i]
        },
        grid: { color: GRID, drawTicks: false, offset: false },
        border: { color: FRAME }
      },
      y: {
        position: 'left',
        min: PRICE_TICKS.min,
        max: PRICE_TICKS.max,
        afterFit: (s) => { s.width = 60; },
        ticks: { stepSize: PRICE_TICKS.step, padding: 12, labelOffset: -5, color: '#000', font: tickFont },
        grid: { color: GRID, drawTicks: false },
        border: { color: FRAME }
      },
      yv: {
        position: 'right',
        min: VOLTY_TICKS.min,
        max: VOLTY_TICKS.max,
        afterFit: (s) => { s.width = 56; },
        ticks: { stepSize: VOLTY_TICKS.step, padding: 11, labelOffset: -5, color: '#000', font: tickFont,
                 callback: (v) => v + '%' },
        grid: { display: false, drawTicks: false },
        border: { color: FRAME }
      },
      yVol: { display: false, min: 0, max: 7250 }
    }
  },
  plugins: [framePlugin]
});
</script>
</body>
</html>
